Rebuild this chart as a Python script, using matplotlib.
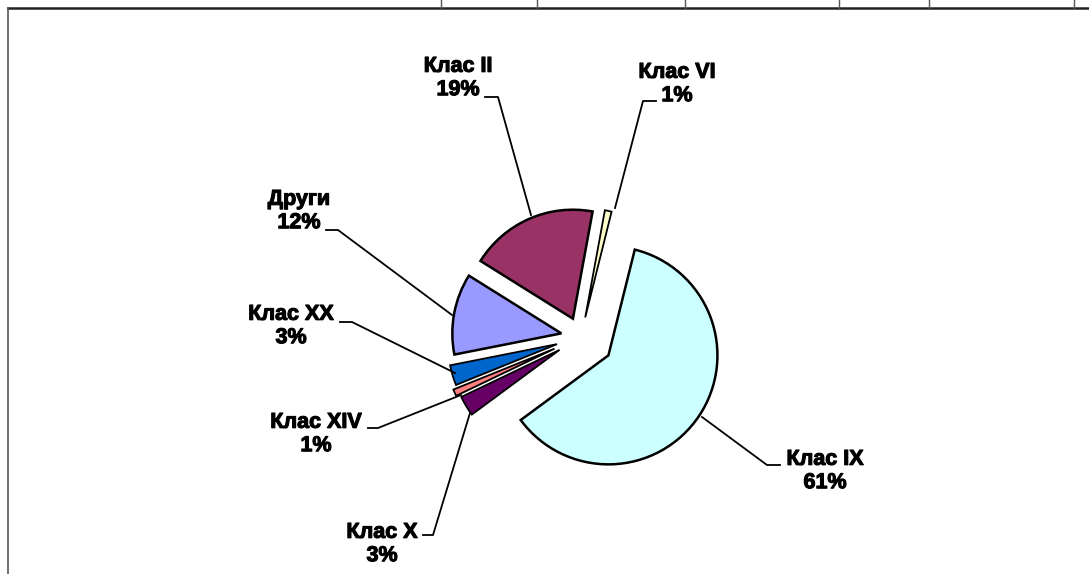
import matplotlib
matplotlib.use("Agg")
import matplotlib.pyplot as plt
import matplotlib.patheffects as pe

plt.rcParams['font.family'] = ['Liberation Sans', 'DejaVu Sans']

W, H = 1089, 574

# slices, clockwise from the top
names = ["Клас IX", "Клас X", "Клас XIV", "Клас XX", "Други", "Клас II", "Клас VI"]
shares = [61, 3, 1, 3, 12, 19, 1]
colors = ["#CCFFFF", "#660066", "#FF8080", "#0066CC", "#9999FF", "#993366", "#FFFFCC"]
explode = [33, 25, 29, 25, 20, 20, 20]

# label block centres and leader lines, in pixels from the top-left corner
label_pos = [(825, 471), (382, 544), (316, 434), (291, 326), (299, 211), (458, 78), (677, 84)]
leaders = [
    [(780, 465), (767, 465), (702, 417)],
    [(423, 535), (433, 535), (470, 413)],
    [(368, 428), (378, 428), (461, 395)],
    [(340, 322), (352, 322), (455, 373)],
    [(326, 230), (338, 230), (452, 315)],
    [(485, 97), (498, 97), (531, 215)],
    [(656, 101), (643, 101), (615, 208)],
]


def flip(pts):
    return [p[0] for p in pts], [H - p[1] for p in pts]


fig = plt.figure(figsize=(W / 100, H / 100), dpi=100)
ax = fig.add_axes([0, 0, 1, 1])

wedges, _ = ax.pie(shares, colors=colors, explode=explode, center=(581, H - 337),
                   radius=109, startangle=76, counterclock=False,
                   wedgeprops=dict(edgecolor="black", linewidth=1.8))
# thinner outline on the narrow slices so the gaps between them stay visible
for w, v in zip(wedges, shares):
    if v <= 3:
        w.set_linewidth(1.3)

for name, v, (x, y), pts in zip(names, shares, label_pos, leaders):
    ax.text(x, H - y, f"{name}\n{v}%", ha="center", va="center", fontsize=15.5,
            fontweight="bold", linespacing=1.15,
            path_effects=[pe.withStroke(linewidth=0.8, foreground="black")])
    xs, ys = flip(pts)
    ax.plot(xs, ys, color="black", lw=1.3)

# bits of the surrounding table
ax.plot([8, W], [H - 8, H - 8], color="#222222", lw=1.8)
ax.plot([8, 8], [H - 8, 0], color="#555555", lw=1.2)
for x in [441, 537, 685, 839, 929, 1074]:
    ax.plot([x, x], [H, H - 8], color="#555555", lw=1.0)

ax.set_xlim(0, W)
ax.set_ylim(0, H)
ax.set_aspect("equal")
ax.axis("off")

fig.savefig("out.png", dpi=100)
